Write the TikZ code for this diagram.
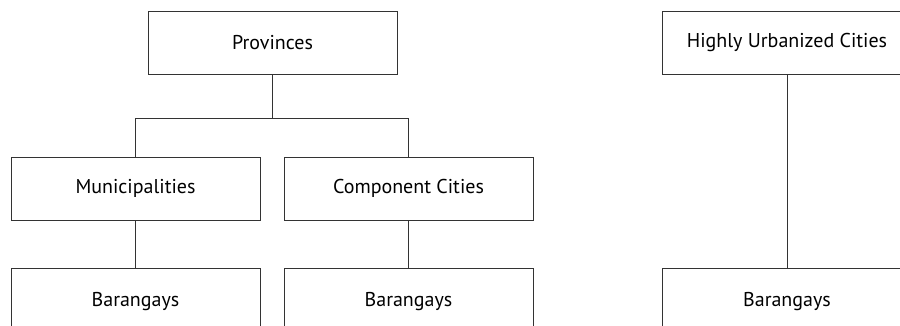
\documentclass[tikz,border=0pt]{standalone}
\usepackage{fontspec}
\setmainfont{PT Sans}
\begin{document}
\begin{tikzpicture}[x=1pt,y=-1pt,
  box/.style={draw=black!80, line width=0.9pt, minimum width=249pt, minimum height=63pt, inner sep=0pt, font=\fontsize{20}{22}\selectfont},
  tallbox/.style={box, minimum height=68pt},
  conn/.style={draw=black!80, line width=0.9pt}]
\useasboundingbox (0,0) rectangle (900,326);
\clip (0,0) rectangle (900,326);
\node[box] (prov) at (272.5,42.75) {Provinces};
\node[box] (mun) at (135.5,188.5) {Municipalities};
\node[box] (comp) at (408.5,188.5) {Component Cities};
\node[tallbox] (bar1) at (135.5,302) {Barangays};
\node[tallbox] (bar2) at (408.5,302) {Barangays};
\node[box] (huc) at (787,42.75) {Highly Urbanized Cities};
\node[tallbox] (bar3) at (787,302) {Barangays};
\coordinate (bus) at (272.5,118);
\draw[conn] (prov.south) -- (bus);
\draw[conn] (mun.north) -- (mun.north |- bus) -- (comp.north |- bus) -- (comp.north);
\draw[conn] (mun.south) -- (bar1.north);
\draw[conn] (comp.south) -- (bar2.north);
\draw[conn] (huc.south) -- (bar3.north);
\end{tikzpicture}
\end{document}
